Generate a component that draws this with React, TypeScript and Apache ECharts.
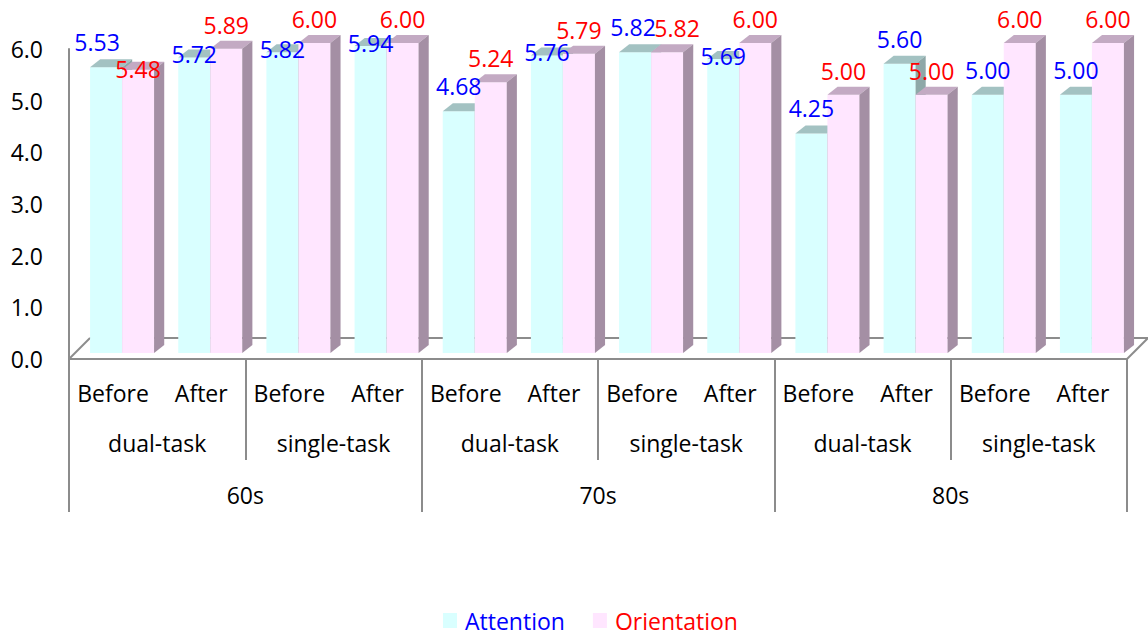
import React, { useEffect, useRef } from "react";
import * as echarts from "echarts";

const conditionLabels = ["Before", "After", "Before", "After", "Before", "After", "Before", "After", "Before", "After", "Before", "After"];
const taskLabels = ["dual-task", "single-task", "dual-task", "single-task", "dual-task", "single-task"];
const ageLabels = ["60s", "70s", "80s"];
const attention = [5.53, 5.72, 5.82, 5.94, 4.68, 5.76, 5.82, 5.69, 4.25, 5.6, 5.0, 5.0];
const orientation = [5.48, 5.89, 6.0, 6.0, 5.24, 5.79, 5.82, 6.0, 5.0, 5.0, 6.0, 6.0];
const yTicks = [0, 1, 2, 3, 4, 5, 6];

const FONT = '"Open Sans", sans-serif';
const FS = 23;
const GRAY = "#8c8c8c";

const COLORS = [
  { front: "#d9ffff", top: "#a3c2c2", side: "#8ea8a8", text: "#0000ff" },
  { front: "#ffe6ff", top: "#c3aac3", side: "#a48fa4", text: "#ff0000" },
];

function makeRender(k: number) {
  return (params: any, api: any) => {
    const i = api.value(0);
    const a = attention[i];
    const o = orientation[i];
    const bw = api.size([1, 0])[0];
    const base = api.coord([i, 0]);
    const cx = base[0];
    const y0 = base[1];
    const v = k === 0 ? a : o;
    const top = api.coord([i, v])[1];
    const x0 = k === 0 ? cx - 0.261 * bw : cx + 0.102 * bw;
    const x1 = k === 0 ? cx + 0.102 * bw : cx + 0.465 * bw;
    const dx = 0.115 * bw;
    const dy = -8;
    const c = COLORS[k];

    // label placement: above the bar, nudged when the pair's labels collide
    const aTop = api.coord([i, a])[1];
    const oTop = api.coord([i, o])[1];
    let bx = cx - 0.0795 * bw;
    let by = aTop - 25;
    let px = cx + 0.2835 * bw;
    let py = oTop - 24;
    if (Math.abs(by - py) < 18) {
      if (a === o) {
        bx -= 2;
        px += 10;
      } else if (a > o) {
        bx -= 9;
        py = oTop - 1;
      } else {
        by = aTop - 3;
      }
    }
    const lx = k === 0 ? bx : px;
    const ly = k === 0 ? by : py;

    return {
      type: "group",
      children: [
        {
          type: "polygon",
          z2: k * 10,
          shape: { points: [[x0, top], [x1, top], [x1, y0], [x0, y0]] },
          style: { fill: c.front },
        },
        {
          type: "polygon",
          z2: k * 10 + 1,
          shape: { points: [[x0, top], [x1, top], [x1 + dx, top + dy], [x0 + dx, top + dy]] },
          style: { fill: c.top },
        },
        {
          type: "polygon",
          z2: k * 10 + 1,
          shape: { points: [[x1, top], [x1 + dx, top + dy], [x1 + dx, y0 + dy], [x1, y0]] },
          style: { fill: c.side },
        },
        {
          type: "text",
          z2: 100,
          x: lx,
          y: ly,
          style: {
            text: v.toFixed(2),
            fill: c.text,
            fontSize: FS,
            fontFamily: FONT,
            align: "center",
            verticalAlign: "middle",
          },
        },
      ],
    };
  };
}

export default function App() {
  const ref = useRef<HTMLDivElement>(null);
  useEffect(() => {
    if (!ref.current) return;
    const chart = echarts.init(ref.current, null, { renderer: "svg" });
    const frameGrid = { left: 69, right: 21, top: 49, bottom: 276 };
    const labelStyle = { fontSize: FS, fontFamily: FONT, color: "#000" };
    chart.setOption({
      animation: false,
      backgroundColor: "#ffffff",
      textStyle: { fontFamily: FONT },
      grid: [
        { left: 69, right: 21, top: 43, bottom: 282 },
        frameGrid,
        frameGrid,
        frameGrid,
      ],
      xAxis: [
        { type: "category", gridIndex: 0, data: conditionLabels, show: false },
        {
          type: "category",
          gridIndex: 1,
          data: conditionLabels,
          axisLine: { lineStyle: { color: GRAY, width: 2 } },
          axisTick: { show: false },
          axisLabel: { ...labelStyle, margin: 22, interval: 0 },
        },
        {
          type: "category",
          gridIndex: 2,
          data: taskLabels,
          axisLine: { show: false },
          axisTick: { show: true, length: 101, lineStyle: { color: GRAY, width: 2 } },
          axisLabel: { ...labelStyle, margin: 72, interval: 0 },
        },
        {
          type: "category",
          gridIndex: 3,
          data: ageLabels,
          axisLine: { show: false },
          axisTick: { show: true, length: 153, lineStyle: { color: GRAY, width: 2 } },
          axisLabel: { ...labelStyle, margin: 124, interval: 0 },
        },
      ],
      yAxis: [
        { type: "value", gridIndex: 0, min: 0, max: 6, show: false },
        {
          type: "value",
          gridIndex: 1,
          min: yTicks[0],
          max: yTicks[yTicks.length - 1],
          interval: 1,
          axisLine: { show: true, lineStyle: { color: GRAY, width: 2 } },
          axisTick: { show: false },
          splitLine: { show: false },
          axisLabel: { ...labelStyle, margin: 26, formatter: (v: number) => v.toFixed(1) },
        },
        { type: "value", gridIndex: 2, min: 0, max: 6, show: false },
        { type: "value", gridIndex: 3, min: 0, max: 6, show: false },
      ],
      legend: {
        left: 443,
        top: 609,
        padding: 0,
        icon: "rect",
        itemWidth: 14,
        itemHeight: 15,
        itemGap: 28,
        textStyle: { fontSize: FS, fontFamily: FONT, lineHeight: 20, padding: [0, 0, 0, 3] },
        data: [
          { name: "Attention", textStyle: { color: "#0000ff" } },
          { name: "Orientation", textStyle: { color: "#ff0000" } },
        ],
      },
      graphic: [
        { type: "line", z: 0, shape: { x1: 90, y1: 338, x2: 1148, y2: 338 }, style: { stroke: GRAY, lineWidth: 2 } },
        { type: "line", z: 0, shape: { x1: 69, y1: 359, x2: 90, y2: 338 }, style: { stroke: GRAY, lineWidth: 2 } },
        { type: "line", z: 0, shape: { x1: 1127, y1: 359, x2: 1148, y2: 338 }, style: { stroke: GRAY, lineWidth: 2 } },
      ],
      series: [
        {
          name: "Attention",
          type: "custom",
          xAxisIndex: 0,
          yAxisIndex: 0,
          clip: false,
          itemStyle: { color: COLORS[0].front },
          encode: { x: 0, y: 1 },
          data: attention.map((v, i) => [i, v]),
          renderItem: makeRender(0),
        },
        {
          name: "Orientation",
          type: "custom",
          xAxisIndex: 0,
          yAxisIndex: 0,
          clip: false,
          itemStyle: { color: COLORS[1].front },
          encode: { x: 0, y: 1 },
          data: orientation.map((v, i) => [i, v]),
          renderItem: makeRender(1),
        },
      ],
    });
    return () => chart.dispose();
  }, []);
  return (
    <div
      ref={ref}
      style={{ position: "fixed", left: 0, top: 0, width: 1148, height: 635 }}
    />
  );
}
